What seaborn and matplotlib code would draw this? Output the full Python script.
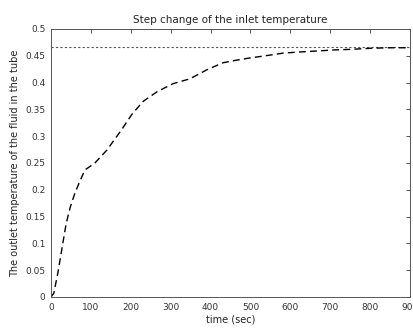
import matplotlib
matplotlib.use("Agg")
import matplotlib.pyplot as plt
import seaborn as sns
import pandas as pd

time_sec = [0, 7, 17, 28, 38, 48, 60, 73, 85, 110, 140, 175, 203, 231, 266, 306,
            348, 391, 431, 466, 499, 537, 582, 620, 667, 712, 750, 800, 850, 900]
outlet_temp = [0.0, 0.007, 0.044, 0.093, 0.137, 0.167, 0.194, 0.217, 0.237, 0.25,
               0.274, 0.31, 0.341, 0.365, 0.383, 0.398, 0.407, 0.424, 0.437, 0.442,
               0.446, 0.45, 0.455, 0.457, 0.459, 0.461, 0.462, 0.464, 0.465, 0.465]
steady_value = 0.467
x_ticks = [0, 100, 200, 300, 400, 500, 600, 700, 800, 900]
y_ticks = [0, 0.05, 0.1, 0.15, 0.2, 0.25, 0.3, 0.35, 0.4, 0.45, 0.5]
y_tick_labels = ["0", "0.05", "0.1", "0.15", "0.2", "0.25", "0.3", "0.35", "0.4", "0.45", "0.5"]

sns.set_style("white")
plt.rcParams['font.family'] = ['DejaVu Sans']

df = pd.DataFrame({"time": time_sec, "temp": outlet_temp})

fig = plt.figure(figsize=(4.14, 3.36), dpi=100)
ax = fig.add_axes([51/414, 1 - 297/336, (410 - 51)/414, (297 - 29)/336])

ax.axhline(steady_value, color="#555555", linestyle=(0, (2, 2)), linewidth=0.8)
sns.lineplot(data=df, x="time", y="temp", ax=ax, color="black",
             linestyle=(0, (5, 3)), linewidth=1.0)

ax.set_xlim(0, 900)
ax.set_ylim(0, 0.5)
ax.set_xticks(x_ticks)
ax.set_xticklabels([str(t) for t in x_ticks])
ax.set_yticks(y_ticks)
ax.set_yticklabels(y_tick_labels)
ax.tick_params(axis="both", direction="in", length=3, width=0.6, labelsize=6.5,
               colors="#333333", top=True, right=True, pad=4)
for s in ax.spines.values():
    s.set_color("#555555")
    s.set_linewidth(0.7)

ax.set_title("Step change of the inlet temperature", fontsize=7.5, color="#222222", pad=4)
ax.set_xlabel("time (sec)", fontsize=7, color="#222222", labelpad=2)
ax.set_ylabel("The outlet temperature of the fluid in the tube", fontsize=7, color="#222222", labelpad=4)

fig.savefig("out.png", dpi=100)
